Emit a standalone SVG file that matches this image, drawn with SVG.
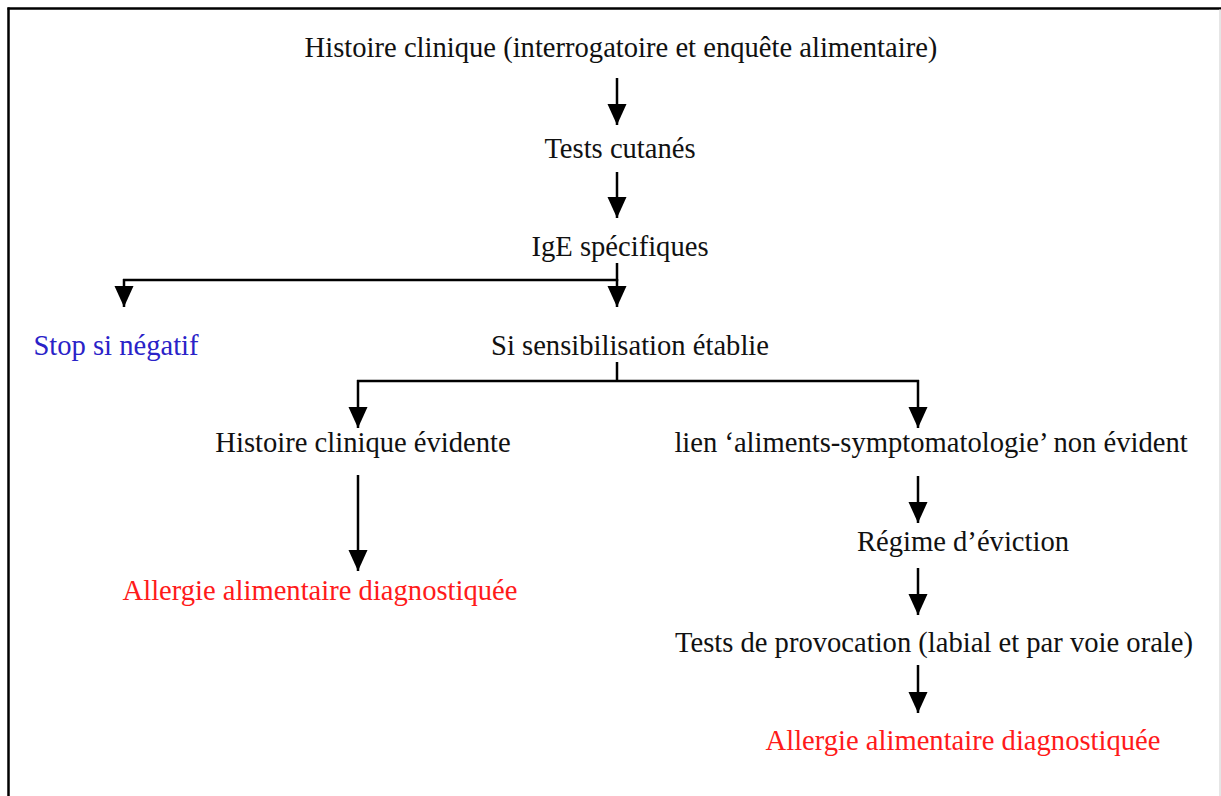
<svg xmlns="http://www.w3.org/2000/svg" width="1221" height="796" viewBox="0 0 1221 796">
<style>
text{font-family:"Liberation Serif","Times New Roman",serif;font-size:28.6px;fill:#111;text-anchor:middle}
.blue{fill:#2a22c8}
.red{fill:#ff1a1a}
.c{stroke:#000;stroke-width:2.5;fill:none}
.a{marker-end:url(#ah)}
</style>
<defs>
<marker id="ah" markerUnits="userSpaceOnUse" markerWidth="22" markerHeight="20" refX="21" refY="9.5" orient="auto">
<path d="M0,0 L21,9.5 L0,19 Z" fill="#000"/>
</marker>
</defs>
<rect width="1221" height="796" fill="#fff"/>
<g id="frame">
<line x1="8.5" y1="7.5" x2="8.5" y2="796" stroke="#000" stroke-width="2.5"/>
<line x1="7.5" y1="8.5" x2="1221" y2="8.5" stroke="#000" stroke-width="2.5"/>
<line x1="1220" y1="9" x2="1220" y2="796" stroke="#ccc" stroke-width="1"/>
</g>
<g id="connectors">
<line class="c a" x1="617" y1="78" x2="617" y2="125"/>
<line class="c a" x1="617" y1="172" x2="617" y2="218"/>
<polyline class="c" points="617,263 617,280 123,280"/>
<line class="c a" x1="124" y1="279" x2="124" y2="307"/>
<line class="c a" x1="617" y1="279" x2="617" y2="307"/>
<polyline class="c" points="617,362 617,381"/>
<line class="c" x1="357" y1="381" x2="919" y2="381"/>
<line class="c a" x1="358" y1="380" x2="358" y2="428"/>
<line class="c a" x1="918" y1="380" x2="918" y2="428"/>
<line class="c a" x1="358" y1="475" x2="358" y2="571"/>
<line class="c a" x1="918" y1="476" x2="918" y2="523"/>
<line class="c a" x1="918" y1="568" x2="918" y2="615"/>
<line class="c a" x1="918" y1="665" x2="918" y2="713"/>
</g>
<g id="n1"><text x="621" y="57">Histoire clinique (interrogatoire et enquête alimentaire)</text></g>
<g id="n2"><text x="620" y="158">Tests cutanés</text></g>
<g id="n3"><text x="620" y="256">IgE spécifiques</text></g>
<g id="n4"><text class="blue" x="116" y="355">Stop si négatif</text></g>
<g id="n5"><text x="630" y="355">Si sensibilisation établie</text></g>
<g id="n6"><text x="363" y="452">Histoire clinique évidente</text></g>
<g id="n7"><text x="931" y="452">lien ‘aliments-symptomatologie’ non évident</text></g>
<g id="n8"><text class="red" x="320" y="600">Allergie alimentaire diagnostiquée</text></g>
<g id="n9"><text x="963" y="551">Régime d’éviction</text></g>
<g id="n10"><text x="934" y="652">Tests de provocation (labial et par voie orale)</text></g>
<g id="n11"><text class="red" x="963" y="750">Allergie alimentaire diagnostiquée</text></g>
</svg>
